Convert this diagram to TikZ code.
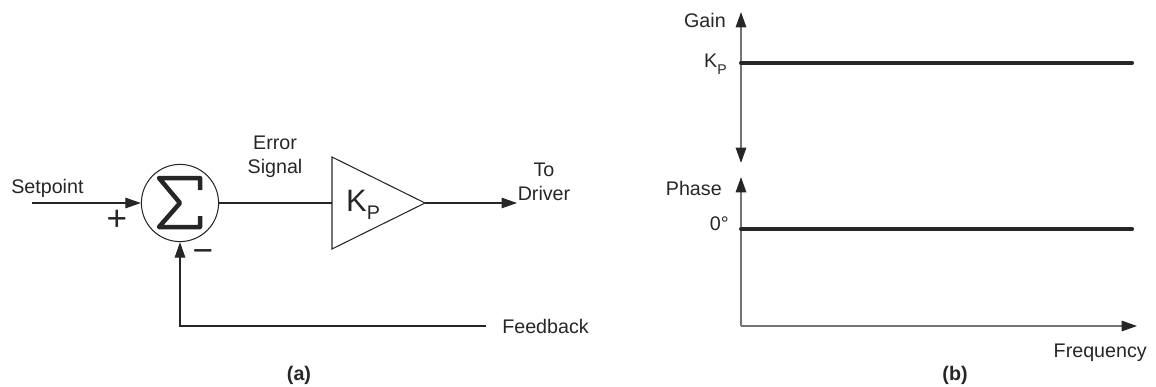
\documentclass[tikz,border=0pt]{standalone}
\usepackage{fontspec}
\setmainfont{Liberation Sans}
\usetikzlibrary{arrows.meta, positioning, calc}

\tikzset{
  lbl/.style={font=\fontsize{14}{17}\selectfont, text=black!85, inner sep=0pt},
  sgn/.style={font=\fontsize{25}{25}\selectfont, text=black!85, inner sep=0pt},
  tag/.style={font=\fontsize{14}{17}\selectfont\bfseries, text=black!85, inner sep=0pt},
  sig/.style={line width=0.75pt, black!85},
  ax/.style={line width=1.1pt, black!55},
  resp/.style={line width=2.9pt, black!85, line cap=round},
}

\begin{document}
\begin{tikzpicture}[x=0.025cm, y=-0.025cm,
    >={Triangle[length=11pt, width=7.5pt, color=black!85]}]
  \useasboundingbox (0,0) rectangle (1156,387);

  % --- (a) proportional controller ---
  \node[circle, draw, sig, minimum size=1.93cm, inner sep=0pt] (sum) at (180,203) {};
  \draw[line width=3.2pt, black!85, line join=round, shift={(sum.center)}]
    (20,-13) -- (20,-25) -- (-21,-25) -- (0,0) -- (-21,24) -- (20,24) -- (20,13);

  \coordinate (sp)  at (32,203);
  \coordinate (ain) at (332,203);
  \coordinate (aout) at (425,203);
  \coordinate (drv) at (517,203);
  \coordinate (fb)  at (486,326);

  \draw[sig] (332,157) -- (aout) -- (332,249) -- cycle;
  \node[inner sep=0pt, text=black!85] (kp) at (363,205)
    {\fontsize{22}{22}\selectfont K\raisebox{-6pt}{\fontsize{14}{14}\selectfont P}};

  \node[lbl, anchor=base west] (setpoint) at (11,193) {Setpoint};
  \node[sgn] (plus) at (117,220) {+};
  \node[sgn] (minus) at (203,256) {−};
  \node[lbl, anchor=base, align=center] (err) at (275,173) {Error\\Signal};
  \node[lbl, anchor=base, align=center] (todrv) at (544,200) {To\\Driver};
  \node[lbl, anchor=base west] (feedback) at (502,333) {Feedback};

  \draw[sig, ->] (sp) -- (sum.west);
  \draw[sig] (sum.east) -- (ain);
  \draw[sig, ->] (aout) -- (drv);
  \draw[sig, ->] (fb) -| (sum.south);

  \node[tag, anchor=base] (capa) at (299,380) {(a)};

  % --- (b) gain and phase vs frequency ---
  \coordinate (gtop) at (741,12);
  \coordinate (gbot) at (741,163);
  \coordinate (ptop) at (741,177);
  \coordinate (orig) at (741,326);
  \coordinate (fend) at (1137,326);

  \draw[ax, <->] (gtop) -- (gbot);
  \draw[ax, <-] (ptop) -- (orig);
  \draw[ax, ->] (orig) -- (fend);

  \draw[resp] (741,63) -- (1132,63);
  \draw[resp] (741,229) -- (1132,229);

  \node[lbl, anchor=base east] (gain) at (726,28) {Gain};
  \node[lbl, anchor=base east] (kpax) at (727,68)
    {K\raisebox{-4.5pt}{\fontsize{10}{10}\selectfont P}};
  \node[lbl, anchor=base east] (phase) at (722,195) {Phase};
  \node[lbl, anchor=base east] (zero) at (729,230) {0°};
  \node[lbl, anchor=base east] (freq) at (1147,357) {Frequency};

  \node[tag, anchor=base] (capb) at (955,380) {(b)};
\end{tikzpicture}
\end{document}
